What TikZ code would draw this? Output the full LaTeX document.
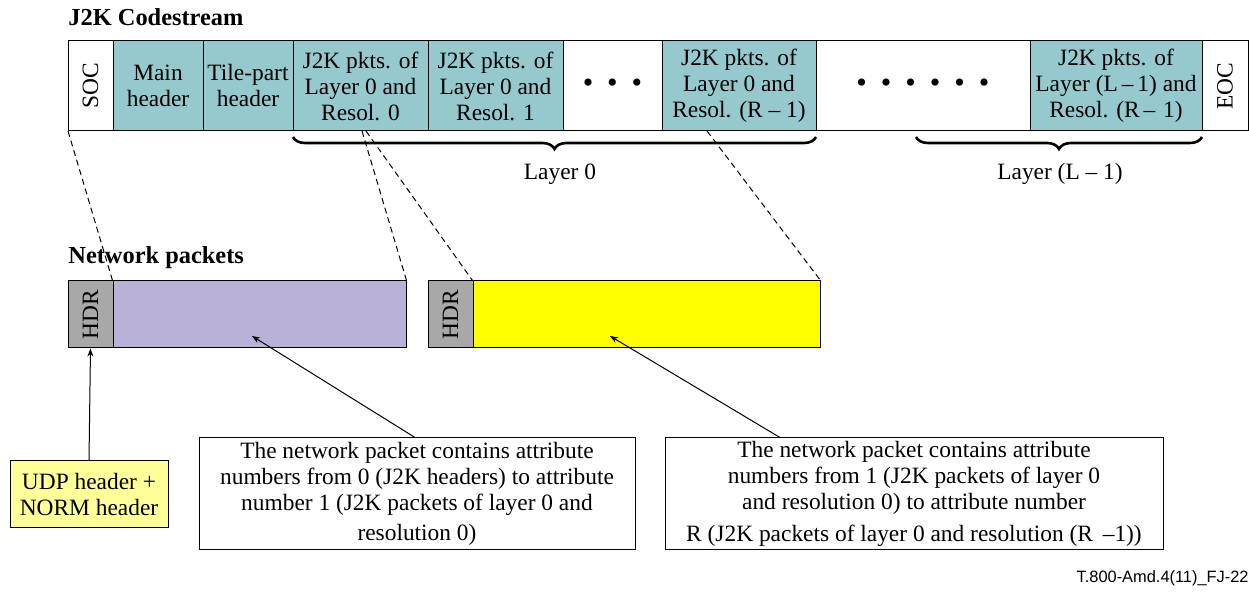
\documentclass[tikz,border=0pt]{standalone}
\usepackage{fontspec}
\setmainfont{Liberation Serif}
\newfontfamily\footfont{Liberation Sans}
\usetikzlibrary{decorations.pathreplacing,arrows.meta}
\definecolor{cteal}{RGB}{150,201,206}
\definecolor{cpurple}{RGB}{185,178,214}
\definecolor{cgray}{RGB}{168,168,168}
\definecolor{cyellow}{RGB}{255,255,0}
\definecolor{cpale}{RGB}{255,255,153}
\newcommand{\bdot}{{\fontsize{15}{15}\selectfont\textbullet}}
\tikzset{
  cell/.style={draw, line width=0.5pt, minimum height=45pt, inner sep=0pt, align=center,
    font=\fontsize{11.7}{13}\selectfont},
  pkt/.style={draw, line width=0.5pt, minimum height=33.5pt, inner sep=0pt, align=center,
    font=\fontsize{11.7}{13}\selectfont},
  note/.style={draw, line width=0.5pt, inner sep=0pt, align=center, font=\fontsize{11.7}{13}\selectfont},
  ttl/.style={font=\fontsize{12.2}{14}\selectfont\bfseries, anchor=west, inner sep=0pt},
  dsh/.style={dashed, dash pattern=on 3pt off 2pt, line width=0.5pt},
  brc/.style={decorate, decoration={brace, amplitude=6pt, mirror}, line width=1.3pt},
  arr/.style={line width=0.5pt, -{Stealth[length=4pt,width=3pt]}},
  lbl/.style={font=\fontsize{11.7}{13}\selectfont, inner sep=0pt}
}
\begin{document}
\begin{tikzpicture}[x=0.5pt,y=-0.5pt]
\useasboundingbox (0,0) rectangle (1249,592);
% title
\node[ttl] (t1) at (68,17) {J2K Codestream};
% codestream cells
\node[cell, minimum width=22.5pt] (soc) at (90.5,86) {\rotatebox{90}{SOC}};
\node[cell, fill=cteal, minimum width=45pt] (mh) at (158,86) {Main\\header};
\node[cell, fill=cteal, minimum width=45pt] (th) at (248,86) {Tile-part\\header};
\node[cell, fill=cteal, minimum width=67.5pt] (r0) at (360.5,86) {J2K pkts. of\\Layer 0 and\\Resol. 0};
\node[cell, fill=cteal, minimum width=67.5pt] (r1) at (495.5,86) {J2K pkts. of\\Layer 0 and\\Resol. 1};
\node[cell, minimum width=49.5pt] (d1) at (612.5,86) {\bdot\hspace{7pt}\bdot\hspace{7pt}\bdot};
\node[cell, fill=cteal, minimum width=77pt] (rr) at (739,86) {J2K pkts. of\\Layer 0 and\\Resol. (R -- 1)};
\node[cell, minimum width=107pt] (d2) at (923,86) {\bdot\hspace{7pt}\bdot\hspace{7pt}\bdot\hspace{7pt}\bdot\hspace{7pt}\bdot\hspace{7pt}\bdot};
\node[cell, fill=cteal, minimum width=86pt] (rl) at (1116,86) {J2K pkts. of\\Layer (L\,--\,1) and\\Resol. (R\,--\,\,1)};
\node[cell, minimum width=23pt] (eoc) at (1225,86) {\rotatebox{90}{EOC}};
% braces
\draw[brc] (293,137) -- (816,137) coordinate[midway] (b1);
\draw[brc] (916,137) -- (1202,137) coordinate[midway] (b2);
\node[lbl] (l0) at (560,174) {Layer 0};
\node[lbl] (ll) at (1060,174) {Layer (L -- 1)};
% network packets
\node[ttl] (t2) at (68,258) {Network packets};
\node[pkt, fill=cgray, minimum width=22.5pt] (h1) at (90.5,314.5) {\rotatebox{90}{HDR}};
\node[pkt, fill=cpurple, minimum width=146.5pt] (p1) at (259.5,314.5) {};
\node[pkt, fill=cgray, minimum width=22.5pt] (h2) at (450.5,314.5) {\rotatebox{90}{HDR}};
\node[pkt, fill=cyellow, minimum width=173.5pt] (p2) at (646.5,314.5) {};
% dashed mapping lines
\coordinate (s0) at (68,131);
\coordinate (s1) at (362,131);
\coordinate (s2) at (366,131);
\coordinate (s3) at (707,131);
\draw[dsh] (s0) -- (p1.north west);
\draw[dsh] (s1) -- (p1.north east);
\draw[dsh] (s2) -- (p2.north west);
\draw[dsh] (s3) -- (p2.north east);
% notes
\node[note, fill=cpale, minimum width=79pt, minimum height=33.5pt] (udp) at (89,494.5) {UDP header +\\NORM header};
\node[note, minimum width=218pt, minimum height=56pt] (n1) at (417,494) {\rule{0pt}{6pt}The network packet contains attribute\\numbers from 0 (J2K headers) to attribute\\number 1 (J2K packets of layer 0 and\\[2pt]resolution 0)};
\node[note, minimum width=249pt, minimum height=56pt] (n2) at (914,494) {\rule{0pt}{6pt}The network packet contains attribute\\numbers from 1 (J2K packets of layer 0\\and resolution 0) to attribute number\\[3pt]R (J2K packets of layer 0 and resolution (R \,--1))};
% arrows
\draw[arr] (udp.north) -- (h1.south);
\coordinate (a1) at (252,336);
\coordinate (a2) at (610,336);
\draw[arr] (n1.north) ++(-2,0) coordinate (n1t) -- (a1);
\draw[arr] (n2.north) ++(-134,0) coordinate (n2t) -- (a2);
% footer
\node[anchor=east, inner sep=0pt, font=\footfont\fontsize{8.2}{9}\selectfont] (ft) at (1249,578) {T.800-Amd.4(11)\_FJ-22};
\end{tikzpicture}
\end{document}
